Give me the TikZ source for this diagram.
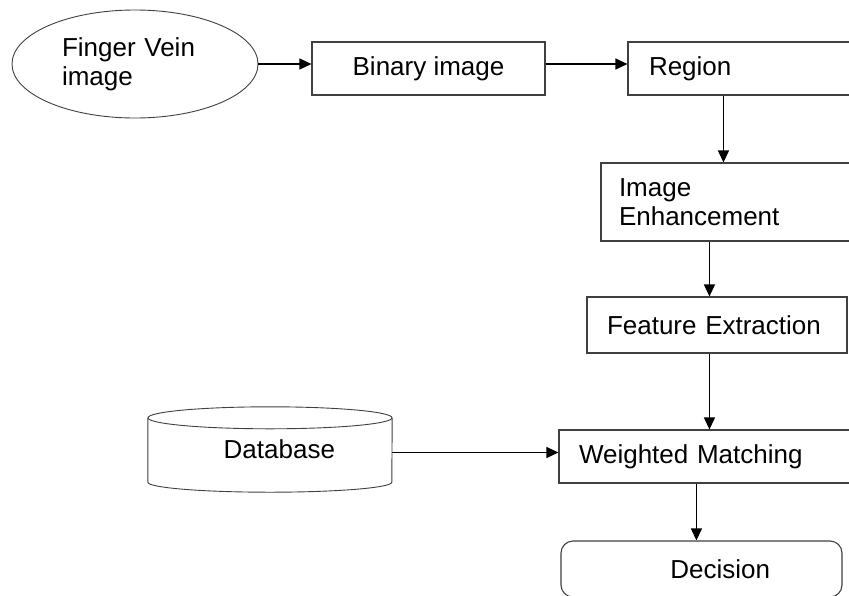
\documentclass[tikz,border=0pt]{standalone}
\usepackage{fontspec}
\setmainfont{Liberation Sans}
\usepackage{tikz}
\usetikzlibrary{arrows.meta,shapes.geometric}

\begin{document}
\begin{tikzpicture}%
                    [x=1pt, y=-1pt,
                    every node/.style={font=\fontsize{26}{29}\selectfont},
                    box/.style={draw=black!75, line width=1.1pt, rectangle, inner ysep=2pt},
                    oval/.style={draw=black!75, line width=0.9pt, ellipse, inner sep=0pt},
                    arr/.style={draw=black, line width=1.2pt, -{Triangle[length=12pt,width=11pt]}}]

                %% Page size
                \clip (0,0) rectangle (849,595);
                \fill[white] (0,0) rectangle (849,595);
                %%
                %% Drawing the blocks
                %%
                \node[oval, minimum width=246, minimum height=108, text width=146, align=left] (fv) at (135,64) {Finger Vein\\image};
                \node[box, minimum width=233, minimum height=53] (bin) at (428.5,68.5) {Binary image};
                \node[box, minimum width=252, minimum height=53, inner xsep=21pt, text width=210, align=left] (reg) at (754,68.5) {Region};
                \node[box, minimum width=279, minimum height=78, inner xsep=18pt, text width=243, align=left] (enh) at (740.5,202) {Image\\Enhancement};
                \node[box, minimum width=260, minimum height=56, inner xsep=20pt, text width=220, align=left] (fea) at (717,325) {Feature Extraction};
                \node[box, minimum width=321, minimum height=53, inner xsep=20pt, text width=281, align=left] (wm) at (719.5,456.5) {Weighted Matching};
                \node[box, rounded corners=12pt, minimum width=281, minimum height=56, inner xsep=72pt, text width=137, align=right] (dec) at (701.5,569) {Decision};
                %% Database cylinder
                \node[minimum width=244, minimum height=85, inner xsep=57pt, text width=130, align=right] (db) at (270,449.5) {Database};
                \draw[draw=black!75, line width=0.9pt] ([yshift=-11pt]db.north west) -- ([yshift=10pt]db.south west)
                      arc[start angle=180, end angle=360, x radius=122pt, y radius=10pt]
                      -- ([yshift=-11pt]db.north east);
                \draw[draw=black!75, line width=0.9pt] ([yshift=-11pt]db.north) ellipse [x radius=122pt, y radius=11pt];
                %%
                %% Drawing the arrows
                %%
                \draw[arr] (fv.east) -- (fv.east -| bin.west);
                \draw[arr] (fv.east -| bin.east) -- (fv.east -| reg.west);
                \draw[arr] ([xshift=96pt]reg.south west) -- ([xshift=96pt]reg.south west |- enh.north);
                \draw[arr] ([xshift=109pt]enh.south west) -- ([xshift=109pt]enh.south west |- fea.north);
                \draw[arr] ([xshift=123pt]fea.south west) -- ([xshift=123pt]fea.south west |- wm.north);
                \draw[arr] ([yshift=-3pt]db.east) -- ([yshift=-3pt]db.east -| wm.west);
                \draw[arr] ([xshift=138pt]wm.south west) -- ([xshift=138pt]wm.south west |- dec.north);
                %%
\end{tikzpicture}
\end{document}
